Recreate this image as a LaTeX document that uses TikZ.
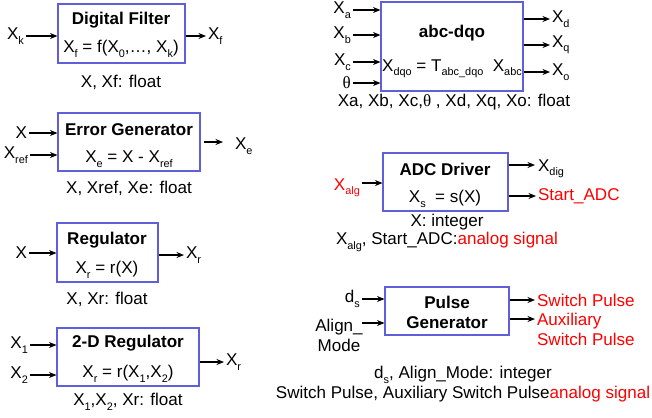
\documentclass[tikz,border=0pt]{standalone}
\usepackage{fontspec}
\setmainfont{Liberation Sans}
\newfontfamily\serifgr{Liberation Serif}
\usetikzlibrary{arrows.meta,fit}
\definecolor{boxblue}{RGB}{95,95,220}
\newcommand{\low}[1]{\raisebox{-0.5ex}{\fontsize{6.2}{6.2}\selectfont #1}}

\begin{document}
\begin{tikzpicture}[x=0.02cm, y=-0.02cm,
  every node/.style={font=\fontsize{9.7}{11.5}\selectfont, inner sep=1pt},
  >={Stealth[length=1.5mm,width=1.2mm]},
  blk/.style={draw=boxblue, line width=0.6pt, inner sep=0pt},
  ttl/.style={font=\fontsize{9.7}{11.5}\selectfont\bfseries},
  sig/.style={->, line width=0.6pt},
  ana/.style={text=red}]
	\useasboundingbox (0,0) rectangle (652,417);
	% Digital Filter
	\node[blk, fit={(58,4) (185,63)}] (df) {};
	\node[ttl] (dft) at (121,20) {Digital Filter};
	\node (dff) at (121,49) {X\low{f} = f(X\low{0},\dots, X\low{k})};
	\node[anchor=east] (xk) at (26,36) {X\low{k}};
	\node[anchor=west] (xf) at (206,36) {X\low{f}};
	\draw[sig] (xk) -- (xk -| df.west);
	\draw[sig] (xf -| df.east) -- (xf);
	\node (dfl) at (121,82) {X, Xf: float};
	% Error Generator
	\node[blk, fit={(58,113) (200,171)}] (eg) {};
	\node[ttl] (egt) at (129,130) {Error Generator};
	\node (egf) at (129,159) {X\low{e} = X - X\low{ref}};
	\node[anchor=east] (egx) at (29,133) {X};
	\node[anchor=east] (egr) at (30,155) {X\low{ref}};
	\draw[sig] (egx) -- (egx -| eg.west);
	\draw[sig] (egr) -- (egr -| eg.west);
	\coordinate (ego) at (223,142);
	\node[anchor=west] (xe) at (233,146) {X\low{e}};
	\draw[sig, shorten <=2pt] (eg.east |- ego) -- (ego);
	\node (egl) at (129,188) {X, Xref, Xe: float};
	% Regulator
	\node[blk, fit={(57,223) (158,282)}] (rg) {};
	\node[ttl] (rgt) at (107,240) {Regulator};
	\node (rgf) at (107,270) {X\low{r} = r(X)};
	\node[anchor=east] (rgx) at (29,253) {X};
	\node[anchor=west] (rgo) at (184,255) {X\low{r}};
	\draw[sig] (rgx) -- (rgx -| rg.west);
	\draw[sig] (rgo -| rg.east) -- (rgo);
	\node (rgl) at (107,299) {X, Xr: float};
	% 2-D Regulator
	\node[blk, fit={(57,328) (199,386)}] (dr) {};
	\node[ttl] (drt) at (128,343) {2-D Regulator};
	\node (drf) at (128,374) {X\low{r} = r(X\low{1},X\low{2})};
	\node[anchor=east] (drx1) at (30,345) {X\low{1}};
	\node[anchor=east] (drx2) at (30,375) {X\low{2}};
	\draw[sig] (drx1) -- (drx1 -| dr.west);
	\draw[sig] (drx2) -- (drx2 -| dr.west);
	\node[anchor=west] (dro) at (224,362) {X\low{r}};
	\draw[sig] (dro -| dr.east) -- (dro);
	\node (drl) at (128,402) {X\low{1},X\low{2}, Xr: float};
	% abc-dqo
	\node[blk, fit={(381,2) (523,91)}] (ad) {};
	\node[ttl] (adt) at (452,33) {abc-dqo};
	\node (adf) at (452,69) {X\low{dqo} = T\low{abc\_dqo}\ \ X\low{abc}};
	\node[anchor=east] (xa) at (353,10) {X\low{a}};
	\node[anchor=east] (xb) at (353,35) {X\low{b}};
	\node[anchor=east] (xc) at (353,62) {X\low{c}};
	\node[anchor=east] (th) at (353,83) {\serifgr θ};
	\foreach \n in {xa,xb,xc,th} \draw[sig] (\n) -- (\n -| ad.west);
	\node[anchor=west] (xd) at (550,19) {X\low{d}};
	\node[anchor=west] (xq) at (550,45) {X\low{q}};
	\node[anchor=west] (xo) at (550,72) {X\low{o}};
	\foreach \n in {xd,xq,xo} \draw[sig] (\n -| ad.east) -- (\n);
	\node (adl) at (454,102) {Xa, Xb, Xc,{\serifgr θ} , Xd, Xq, Xo: float};
	% ADC Driver
	\node[blk, fit={(383,153) (508,211)}] (adc) {};
	\node[ttl] (adct) at (445,169) {ADC Driver};
	\node (adcf) at (445,199) {X\low{s} \ = s(X)};
	\node[ana, anchor=east] (xalg) at (362,188) {X\low{alg}};
	\coordinate (algin) at (362,183);
	\draw[sig] (algin) -- (algin -| adc.west);
	\node[anchor=west] (xdig) at (536,169) {X\low{dig}};
	\coordinate (digo) at (535,165);
	\draw[sig] (digo -| adc.east) -- (digo);
	\node[ana, anchor=west] (sadc) at (536,196) {Start\_ADC};
	\draw[sig] (sadc -| adc.east) -- (sadc);
	\node (adcl) at (447,222) {X: integer};
	\node (adcl2) at (447,242) {X\low{alg}, Start\_ADC:\textcolor{red}{analog signal}};
	% Pulse Generator
	\node[blk, fit={(385,287) (509,335)}] (pg) {};
	\node[ttl, align=center] (pgt) at (447,312) {Pulse\\Generator};
	\node[anchor=east] (ds) at (362,299) {d\low{s}};
	\draw[sig] (ds) -- (ds -| pg.west);
	\node[align=center] (am) at (339,335) {Align\_\\Mode};
	\coordinate (amin) at (362,323);
	\draw[sig] (amin) -- (amin -| pg.west);
	\node[ana, anchor=west] (sp) at (535,300) {Switch Pulse};
	\draw[sig] (sp -| pg.east) -- (sp);
	\node[ana, anchor=north west, align=left] (asp) at (535,311) {Auxiliary\\Switch Pulse};
	\coordinate (aspo) at (535,319);
	\draw[sig] (aspo -| pg.east) -- (aspo);
	\node (pgl) at (463,375) {d\low{s}, Align\_Mode: integer};
	\node (pgl2) at (463,394) {Switch Pulse, Auxiliary Switch Pulse\textcolor{red}{analog signal}};
\end{tikzpicture}
\end{document}
